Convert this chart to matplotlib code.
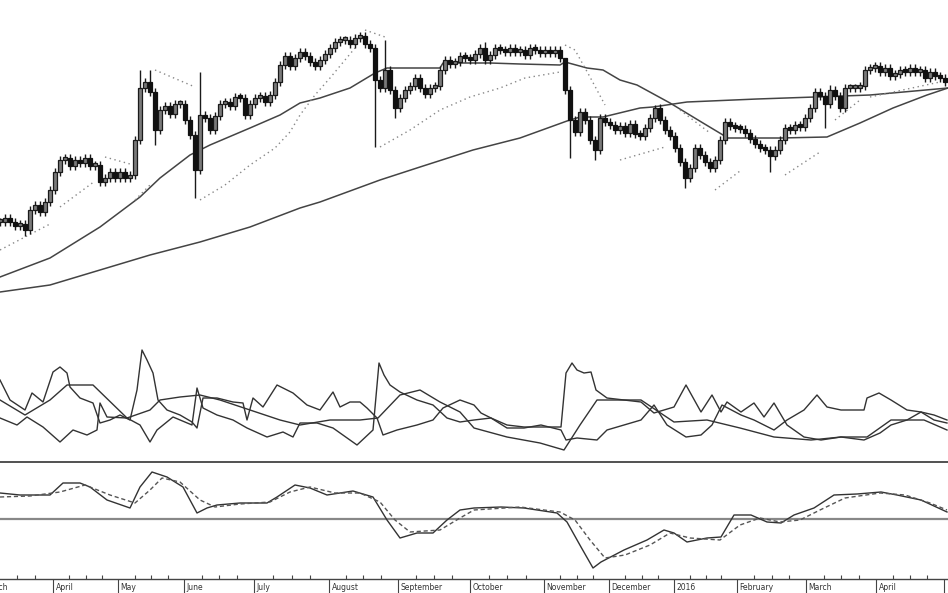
import matplotlib
matplotlib.use("Agg")
import matplotlib.pyplot as plt
import matplotlib.transforms as mtransforms
import numpy as np

# ---- price candles (one bar per session, price units) ----
closes = [37.8, 38.2, 37.8, 37.4, 37.6, 37.0, 39.0, 39.5, 38.8, 39.8,
          41.0, 42.8, 44.0, 44.2, 43.4, 44.0, 43.7, 44.2, 43.4, 43.5,
          41.8, 42.2, 42.8, 42.2, 42.8, 42.2, 42.5, 46.0, 51.2, 51.8,
          50.8, 47.0, 49.0, 49.4, 48.6, 49.6, 49.6, 48.0, 46.5, 43.0,
          48.5, 48.2, 47.0, 48.4, 49.6, 49.8, 49.4, 50.3, 50.2, 48.5,
          49.6, 50.2, 50.4, 49.8, 50.5, 51.8, 53.5, 54.4, 53.4, 54.2,
          54.8, 54.4, 53.8, 53.4, 54.0, 54.6, 55.2, 55.8, 56.0, 56.0,
          55.6, 56.2, 56.4, 55.6, 55.2, 52.0, 51.2, 53.0, 51.0, 49.2,
          50.2, 51.0, 51.4, 52.2, 51.2, 50.6, 51.2, 51.4, 53.0, 54.0,
          53.6, 53.8, 54.4, 54.2, 54.0, 54.6, 55.2, 54.0, 54.5, 55.2,
          55.0, 54.8, 55.2, 54.8, 55.0, 54.5, 55.2, 55.0, 54.7, 55.0,
          54.7, 55.0, 54.2, 51.0, 48.0, 46.8, 48.8, 48.0, 46.0, 45.0,
          48.2, 47.8, 47.5, 47.0, 47.4, 46.7, 47.6, 46.6, 46.4, 47.2,
          48.2, 49.2, 48.0, 47.0, 46.4, 45.2, 43.8, 42.2, 43.2, 45.2,
          44.5, 43.8, 43.2, 44.0, 46.0, 47.8, 47.4, 47.2, 47.1, 46.7,
          46.1, 45.6, 45.2, 45.0, 44.4, 45.0, 46.0, 47.2, 47.0, 47.5,
          47.3, 48.2, 49.2, 50.8, 50.4, 49.6, 51.0, 50.4, 49.2, 51.2,
          51.2, 51.2, 51.4, 53.0, 53.2, 53.4, 52.8, 53.2, 52.4, 52.6,
          53.0, 52.8, 53.2, 52.8, 53.0, 52.2, 52.8, 52.4, 52.2, 51.8]
# long wicks
spike_highs = {28: 53.0, 30: 53.0, 40: 52.8, 77: 56.0, 97: 55.8,
               113: 51.8, 131: 49.5, 166: 51.5}
spike_lows = {5: 36.4, 31: 45.5, 39: 40.2, 75: 45.3, 79: 48.2, 114: 44.2,
              119: 44.0, 137: 41.2, 154: 42.8, 165: 47.2}

# moving averages (session, price)
ma_mid_x = [0, 10, 20, 28, 32, 38, 42, 50, 56, 60, 64, 70, 75, 77.4, 88, 88.6,
            98, 104, 112, 113, 117.4, 120.6, 124, 127.4, 134, 140.6, 144.6,
            145.4, 156, 165.4, 172, 178.6, 185.4, 189.6]
ma_mid_y = [32.3, 34.2, 37.3, 40.3, 42.2, 44.5, 45.5, 47.2, 48.5, 49.7, 50.2,
            51.2, 52.7, 53.2, 53.2, 53.7, 53.7, 53.6, 53.5, 53.8, 53.2, 53.0,
            52.0, 51.5, 49.7, 47.7, 46.5, 46.2, 46.2, 46.3, 47.7, 49.2, 50.5,
            51.2]
ma_long_x = [0, 10, 20, 30, 40, 50, 60, 64, 76, 84, 94.6, 104, 113.4, 116,
             120.6, 128, 130.6, 137.4, 151.4, 163, 174, 189.6]
ma_long_y = [30.8, 31.5, 33.0, 34.5, 35.8, 37.3, 39.2, 39.8, 42.0, 43.3, 45.0,
             46.2, 47.9, 48.3, 48.3, 49.2, 49.3, 49.8, 50.1, 50.3, 50.5, 51.2]

# dotted stop line, segments split by None
sar_x = [0, 10, None, 12, 19, None, 21, 26, None, 27, 30, None, 31, 39, None,
         40, 45, 50, 55, 58, 60, 63, 66, 69, 71, None, 73, 77, None,
         76, 82, 88, 94, 100, 105, 112, None, 113, 115, 118, 121, None,
         124, 133, None, 136, 142, None, 143, 148, None, 157, 164, None,
         167, 172, None, 174, 188]
sar_y = [35.0, 37.6, None, 39.3, 41.9, None, 44.3, 43.6, None, 40.0, 41.5, None,
         53.0, 51.3, None, 40.0, 41.5, 43.5, 45.2, 46.8, 48.5, 50.5, 52.2,
         54.0, 55.2, None, 57.0, 56.3, None, 45.3, 47.0, 49.0, 50.3, 51.2,
         52.2, 52.8, None, 55.5, 55.0, 52.3, 49.5, None, 44.0, 45.3, None,
         49.0, 46.7, None, 41.0, 42.9, None, 42.5, 44.8, None, 48.0, 50.0,
         None, 50.3, 51.8]

# ---- directional movement panel ----
adx_x = [0, 5, 10, 13.4, 18.6, 25.4, 30, 32, 36, 40, 44, 50, 56, 60, 66, 72,
         75.6, 80, 84, 88, 92, 94.8, 101.4, 108, 112.8, 116, 119.4, 128.2,
         134.8, 141.4, 148, 154.8, 162.2, 168.2, 173.4, 178.2, 184.8, 189.4]
adx_y = [31, 23.5, 31, 38.5, 38.5, 22, 26, 31, 32.5, 33.5, 31, 26, 21, 18.5,
         21, 21, 22, 33.5, 36, 30, 25, 17, 12.5, 9.5, 6, 18.5, 31, 31, 20, 21,
         17, 12.5, 11, 12.5, 12.5, 21, 21, 16]
mdi_x = [0, 3.4, 5.4, 8.6, 12, 14.6, 17.4, 19.4, 20, 21.4, 25.4, 28, 30, 31.4,
         34.6, 38.4, 39.4, 40.6, 43.4, 46.6, 49.4, 53.4, 56.6, 58.6, 60, 63.4,
         66.6, 71.4, 74.6, 75.8, 76.8, 78, 80, 83.4, 86.6, 89.4, 92, 94.8,
         98.2, 101.4, 104.8, 108.2, 112.2, 113.2, 114.4, 115.4, 116.8, 118.2,
         119.2, 121.4, 124.8, 128.2, 130.8, 134.8, 137.2, 140.2, 142.4, 144.2,
         145.4, 148.2, 150.8, 152.8, 154.8, 157.4, 160.8, 164.2, 168.2, 172.8,
         176, 178.2, 181.4, 184.2, 186.8, 189.4]
mdi_y = [22, 18.5, 22.5, 17.5, 10, 16, 13.5, 16, 29.5, 22.5, 22, 18.5, 10, 16,
         22.5, 18.5, 37, 27, 23.5, 21, 17, 12.5, 15, 12.5, 19.5, 19.5, 17, 8.5,
         16, 49.5, 43.5, 38.5, 35, 31, 28.5, 22, 20, 21, 22, 18.5, 17.5, 17.5,
         17.5, 44.5, 49.5, 46, 44.5, 45, 36, 32, 31, 30, 24.5, 27.5, 38.5, 25,
         33.5, 25, 30, 25, 29.5, 22.5, 29.5, 18.5, 12.5, 11, 12.5, 11, 14.5,
         18.5, 21, 25, 23.5, 21]
pdi_x = [0, 2, 5, 6.4, 8.6, 10.6, 12, 13.4, 14, 16, 18.6, 20, 22, 24, 26, 27.4,
         28.4, 29.4, 30.6, 31.6, 33.4, 36, 38.4, 39.4, 40.6, 43.4, 46.6, 48.6,
         49.4, 50.6, 52.6, 55.4, 57.4, 58.6, 61.4, 64, 66.6, 68, 70, 72, 73.4,
         75.4, 76.6, 79.4, 83.4, 86.6, 88.6, 92, 94.8, 96.2, 98.2, 101.4,
         104.8, 108.2, 112.2, 113.2, 115.4, 119.4, 121.4, 124.8, 128.2, 130.8,
         133.4, 137.2, 140.2, 142.4, 144.4, 148.2, 150.8, 154.8, 157.4, 160.8,
         163.4, 165.4, 168.2, 172.8, 173.4, 175.8, 178.2, 181.4, 184.2, 186.8,
         189.4]
pdi_y = [41, 31, 26, 34.5, 30, 45, 47.5, 44.5, 37.5, 32, 29.5, 19.5, 21, 23.5,
         21, 36, 56, 51, 44.5, 31, 26, 23.5, 20, 17, 32, 32, 30, 29.5, 21, 32,
         27.5, 38.5, 36, 34.5, 28.5, 26, 35, 27.5, 30, 30, 27, 22, 13.5, 16,
         18.5, 21, 27, 31, 28.5, 24.5, 22, 17, 17, 18.5, 16, 11, 12, 11, 16,
         18.5, 21, 28.5, 18.5, 12.5, 13.5, 18.5, 28.5, 23.5, 21, 16, 21, 26,
         33.5, 27.5, 26, 26, 32, 34.5, 31, 26, 25, 21, 19.5]

# ---- MACD panel ----
macd_x = [0, 4, 10, 12.6, 16, 18, 21.4, 26, 28, 30.4, 33.4, 36.6, 39.4, 41.4,
          43.4, 48, 53.4, 55.4, 59, 62, 65.4, 70.6, 74.6, 77.4, 80, 83.4, 86.6,
          89.4, 92, 94.8, 100.2, 104.8, 111.4, 113.4, 116.2, 118.6, 120.2,
          124.8, 129.4, 132.8, 134.8, 137.4, 141.4, 144.2, 146.8, 150.2, 153.4,
          156.2, 158.8, 162.8, 166.8, 171.4, 176.2, 179.4, 184.2, 189.4]
macd_y = [0.26, 0.24, 0.24, 0.36, 0.36, 0.32, 0.19, 0.11, 0.32, 0.47, 0.42,
          0.32, 0.06, 0.11, 0.14, 0.16, 0.16, 0.22, 0.34, 0.31, 0.24, 0.28,
          0.22, -0.01, -0.19, -0.14, -0.14, -0.01, 0.09, 0.11, 0.12, 0.11,
          0.06, -0.03, -0.28, -0.49, -0.43, -0.31, -0.21, -0.11, -0.14, -0.23,
          -0.19, -0.18, 0.04, 0.04, -0.03, -0.04, 0.04, 0.11, 0.24, 0.25, 0.27,
          0.24, 0.19, 0.07]
signal_x = [0, 6, 12, 17, 22, 27, 30, 32.4, 36, 40, 43, 48, 54, 58, 62, 67, 72,
            76, 79, 82, 88, 92, 94.8, 104, 112, 115, 118, 121, 125, 130, 134,
            138, 144, 148, 152, 156, 160, 164, 169, 176, 181, 186, 189.4]
signal_y = [0.22, 0.23, 0.27, 0.34, 0.24, 0.16, 0.29, 0.41, 0.37, 0.19, 0.12,
            0.15, 0.17, 0.27, 0.32, 0.26, 0.26, 0.17, -0.01, -0.13, -0.11, 0.01,
            0.09, 0.12, 0.07, -0.01, -0.21, -0.39, -0.36, -0.26, -0.14, -0.19,
            -0.21, -0.06, 0.01, -0.03, -0.01, 0.09, 0.21, 0.26, 0.24, 0.16, 0.09]

# month starts (session) and names
month_pos = [-3.6, 10.6, 23.6, 36.8, 50.8, 65.8, 79.6, 94, 108.8, 121.8, 134.8,
             147.4, 161.2, 175.2, 188.8]
month_names = ["March", "April", "May", "June", "July", "August", "September",
               "October", "November", "December", "2016", "February", "March",
               "April", ""]

ink = "#1a1a1a"
XMAX = 189.6
W, H = 948, 593
fig = plt.figure(figsize=(W / 100, H / 100), dpi=100)
ax0 = fig.add_axes([0, 293 / H, 1, 300 / H])
ax1 = fig.add_axes([0, 131 / H, 1, 162 / H])
ax2 = fig.add_axes([0, 14 / H, 1, 117 / H])
for ax in (ax0, ax1, ax2):
    for s in ax.spines.values():
        s.set_visible(False)
    ax.set_yticks([])
    ax.set_xticks([])
    ax.patch.set_alpha(0)

# candles
c = np.array(closes)
o = np.r_[c[0], c[:-1]]
x = np.arange(len(c))
top = np.maximum(o, c)
bot = np.minimum(o, c)
hi = top + 0.4
lo = bot - 0.4
for k, v in spike_highs.items():
    hi[k] = v
for k, v in spike_lows.items():
    lo[k] = v
ax0.vlines(x, lo, hi, color=ink, lw=1.0, zorder=3)
up = c >= o
hgt = np.maximum(top - bot, 0.3)
ax0.bar(x[up], hgt[up], bottom=bot[up], width=0.75,
        color="#7a7a7a", edgecolor=ink, lw=0.9, zorder=4)
ax0.bar(x[~up], hgt[~up], bottom=bot[~up], width=0.75,
        color="#111111", edgecolor="#111111", lw=0.9, zorder=4)
ax0.plot(ma_mid_x, ma_mid_y, color="#444444", lw=1.1, zorder=2)
ax0.plot(ma_long_x, ma_long_y, color="#444444", lw=1.1, zorder=2)
sx = np.array([np.nan if v is None else v for v in sar_x], dtype=float)
sy = np.array([np.nan if v is None else v for v in sar_y], dtype=float)
ax0.plot(sx, sy, color="#888888", lw=1.0, ls=(0, (1, 2.5)), zorder=2)
ax0.set_ylim(30, 60)

# DMI
for xs, ys in ((adx_x, adx_y), (mdi_x, mdi_y), (pdi_x, pdi_y)):
    ax1.plot(xs, ys, color="#333333", lw=1.0)
ax1.set_ylim(0, 81)

# MACD
ax2.axhline(0, color="#888888", lw=1.6)
ax2.plot(macd_x, macd_y, color="#333333", lw=1.0)
ax2.plot(signal_x, signal_y, color="#555555", lw=1.0, ls=(0, (3, 2)))
ax2.set_ylim(-0.60, 0.57)
ax2.spines["top"].set_visible(True)
ax2.spines["top"].set_color("#333333")
ax2.spines["top"].set_linewidth(1.2)
ax2.spines["bottom"].set_visible(True)
ax2.spines["bottom"].set_color("#444444")
ax2.spines["bottom"].set_linewidth(1.0)

ax2.set_xticks(month_pos)
ax2.set_xticklabels([])
minor = []
for a, b in zip(month_pos[:-1], month_pos[1:]):
    minor.extend(np.linspace(a, b, 5)[1:-1])
ax2.set_xticks(minor, minor=True)
ax2.tick_params(axis="x", which="major", direction="out", length=10,
                width=0.8, color="#444444")
ax2.tick_params(axis="x", which="minor", direction="in", length=3,
                width=0.8, color="#444444")
# limits after ticks, set_xticks would widen them
for ax in (ax0, ax1, ax2):
    ax.set_xlim(0, XMAX)

trans = mtransforms.blended_transform_factory(ax2.transData, ax2.transAxes)
for p, name in zip(month_pos, month_names):
    if name:
        ax2.text(p + 0.5, -0.075, name, transform=trans, fontsize=5.5,
                 color="#333333", ha="left", va="center", clip_on=False)

fig.savefig("out.png", dpi=100)
